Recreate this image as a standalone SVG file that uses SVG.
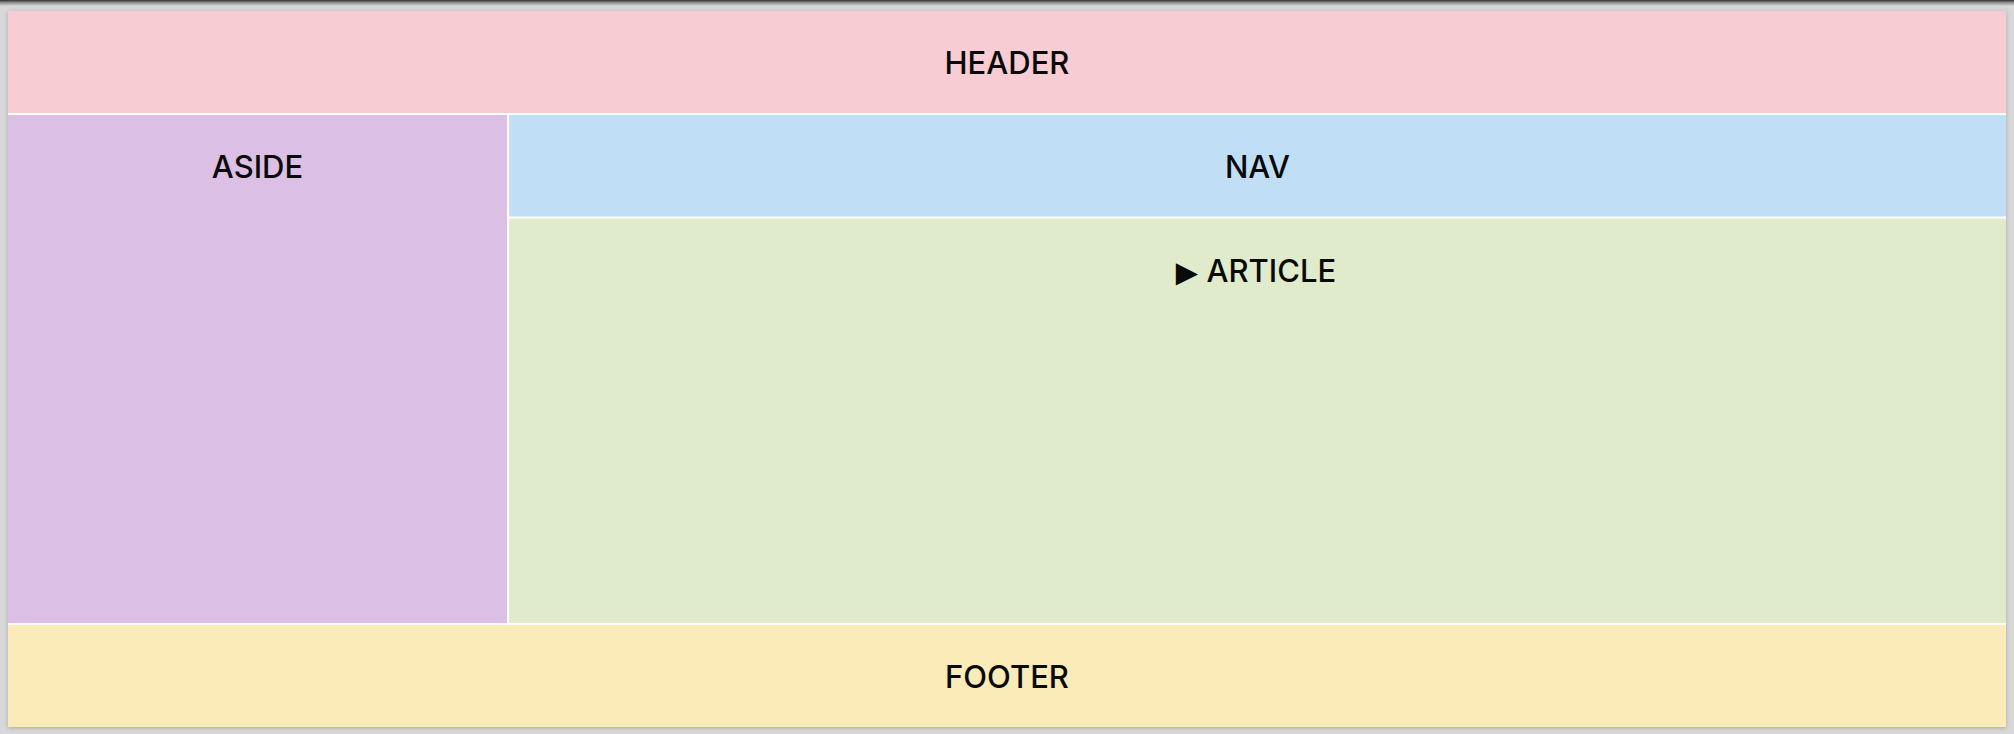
<svg xmlns="http://www.w3.org/2000/svg" width="2014" height="734" viewBox="0 0 2014 734">
  <defs>
    <linearGradient id="topband" x1="0" y1="0" x2="0" y2="1">
      <stop offset="0" stop-color="#2e2e2e"/>
      <stop offset="0.4" stop-color="#8a8a8a"/>
      <stop offset="1" stop-color="#d8d8d8"/>
    </linearGradient>
    <filter id="shadow" x="-2%" y="-5%" width="104%" height="110%">
      <feDropShadow dx="0" dy="1" stdDeviation="2" flood-color="#000" flood-opacity="0.22"/>
    </filter>
    <style>
      .lbl { font-family: Inter, "Liberation Sans", Arial, sans-serif; font-size: 31px; font-weight: 500; fill: #0a0a0a; text-anchor: middle; }
      .mark { font-family: "DejaVu Sans", sans-serif; font-size: 29px; }
      .cell { stroke: none; }
    </style>
  </defs>
  <rect x="0" y="0" width="2014" height="734" fill="#d8d8d8"/>
  <rect x="0" y="0" width="2014" height="6" fill="url(#topband)"/>
  <rect x="8" y="11" width="1998" height="716" fill="#ffffff" filter="url(#shadow)"/>
  <g id="header">
    <rect class="cell" x="8" y="11" width="1998" height="102" fill="#f7cdd3"/>
    <text class="lbl" x="1007" y="74">HEADER</text>
  </g>
  <g id="aside">
    <rect class="cell" x="8" y="115" width="499" height="508" fill="#dbbfe4"/>
    <text class="lbl" x="257.5" y="178">ASIDE</text>
  </g>
  <g id="nav">
    <rect class="cell" x="509" y="115" width="1497" height="101.5" fill="#c0dff7"/>
    <text class="lbl" x="1257.5" y="178">NAV</text>
  </g>
  <g id="article">
    <rect class="cell" x="509" y="218.5" width="1497" height="404.5" fill="#e0ebcb"/>
    <text class="lbl" x="1256" y="282"><tspan class="mark">▶</tspan> ARTICLE</text>
  </g>
  <g id="footer">
    <rect class="cell" x="8" y="625" width="1998" height="102" fill="#fbebb8"/>
    <text class="lbl" x="1007" y="688">FOOTER</text>
  </g>
  <g id="connectors"></g>
</svg>
